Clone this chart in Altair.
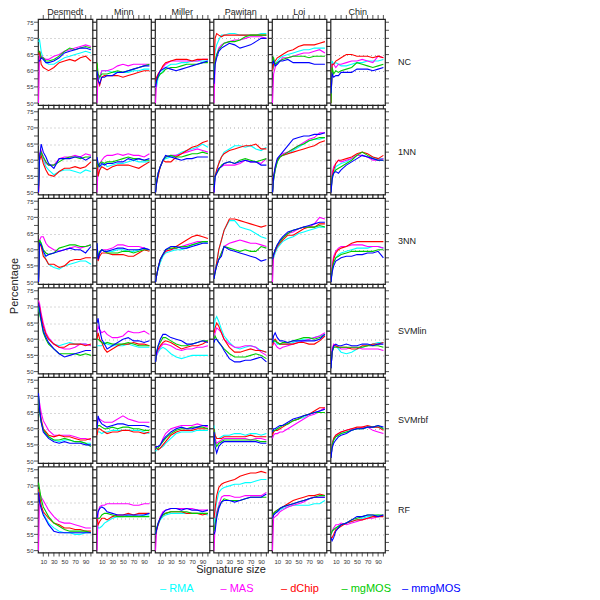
import altair as alt
import pandas as pd

SIZES = [1, 3, 6, 10, 15, 20, 30, 40, 50, 60, 70, 80, 90, 100]
DATASETS = ["Desmedt", "Minn", "Miller", "Pawitan", "Loi", "Chin"]
CLASSIFIERS = ["NC", "1NN", "3NN", "SVMlin", "SVMrbf", "RF"]
METHODS = ["RMA", "MAS", "dChip", "mgMOS", "mmgMOS"]
COLORS = ["#00FFFF", "#FF00FF", "#FF0000", "#00CC00", "#0000FF"]
Y_TICKS = [50, 52.5, 55, 57.5, 60, 62.5, 65, 67.5, 70, 72.5, 75]
X_TICKS = [10, 20, 30, 40, 50, 60, 70, 80, 90, 100]
X_DOMAIN = [0, 103]
Y_DOMAIN = [49.4, 76]

NC_Desmedt = {
    "RMA": [69, 69.5, 66, 63.5, 62.5, 62, 62, 63, 64, 64.5, 65, 65.5, 66, 65.5],
    "MAS": [50, 66, 64.5, 64, 63.5, 63.5, 64.5, 65, 66, 66.5, 67, 67.5, 68, 67.5],
    "dChip": [65, 66, 62, 61, 60.5, 60, 61, 62.5, 63, 63.5, 63, 64, 64.5, 63],
    "mgMOS": [66, 66, 64, 64, 63, 63, 63.5, 64.5, 66, 67, 66.5, 67, 67.5, 67],
    "mmgMOS": [63, 63, 64, 63.5, 62.5, 62.5, 63, 64, 65.5, 66, 66.5, 67, 67, 66.5],
}
NC_Minn = {
    "RMA": [60, 58, 57.5, 60, 60, 60, 59.5, 59.5, 59.5, 59.5, 60, 60, 60.5, 60.5],
    "MAS": [50, 59, 58, 60, 60, 60, 60.5, 61.5, 62, 61.5, 62, 62, 62, 62],
    "dChip": [62, 57, 55.5, 58, 58.5, 58.5, 58.5, 58.5, 58, 58.5, 59, 59.5, 60, 60],
    "mgMOS": [62.5, 59, 58, 59, 59, 59, 59.5, 60, 59.5, 60, 60.5, 61, 61.5, 62],
    "mmgMOS": [60, 57, 56, 58, 58, 58.5, 58.5, 59.5, 59.5, 60, 60.5, 61, 61.5, 61.5],
}
NC_Miller = {
    "RMA": [55, 55, 58, 59, 60, 61, 62, 62, 62.5, 62.5, 63, 63, 63, 63],
    "MAS": [50, 57, 59, 60, 61, 62, 63, 63, 63, 63, 63, 63, 63.5, 63.5],
    "dChip": [56, 58, 59, 60, 61.5, 62.5, 63, 63.5, 63.5, 63.5, 63, 63.5, 63.5, 63.5],
    "mgMOS": [56, 57, 58, 59, 59.5, 60.5, 61, 61, 61.5, 62, 62, 62, 62.5, 62.5],
    "mmgMOS": [55, 57, 58.5, 60, 60.5, 61, 60.5, 60, 60.5, 61, 61.5, 62, 62.5, 63],
}
NC_Pawitan = {
    "RMA": [60, 66, 68, 69.5, 71, 71, 71.5, 71.5, 71, 71, 71, 71, 71.5, 71.5],
    "MAS": [50, 62, 65, 67, 68, 68.5, 69, 69.5, 69.5, 70, 70.5, 70.5, 70.5, 70],
    "dChip": [62, 70, 71.5, 71, 70.5, 71, 71, 71, 71, 71, 71, 71, 71, 71],
    "mgMOS": [58, 63, 65, 66.5, 67.5, 68.5, 69, 69, 69.5, 70.5, 71, 71, 71, 71],
    "mmgMOS": [56, 62, 64, 66, 67, 67.5, 68.5, 68, 67, 67.5, 68, 69, 70, 70],
}
NC_Loi = {
    "RMA": [60, 61, 62, 63, 64, 64.5, 65, 65.5, 66, 66.5, 66.5, 67, 67, 67],
    "MAS": [50, 59, 61, 62.5, 63, 64, 64, 64.5, 65, 65.5, 65.5, 66, 66.5, 65.5],
    "dChip": [60, 62, 63, 64, 64.5, 65, 66, 66.5, 67.5, 68, 68, 68, 68.5, 69],
    "mgMOS": [63, 64, 62, 62.5, 63, 63.5, 64, 64.5, 64.5, 64.5, 64, 64.5, 64.5, 64.5],
    "mmgMOS": [62, 63, 61.5, 62, 63, 63, 63.5, 62.5, 62.5, 62.5, 62.5, 62, 62, 62],
}
NC_Chin = {
    "RMA": [50, 63, 62, 62.5, 62, 61.5, 61.5, 62, 62.5, 62.5, 63, 63, 63, 63.5],
    "MAS": [50, 62, 62, 61, 62, 62, 62.5, 63, 63, 63.5, 63, 62.5, 64.5, 64],
    "dChip": [50, 62, 62, 63, 63.5, 64, 65, 65, 64.5, 64.5, 64.5, 64, 64.5, 64],
    "mgMOS": [50, 61, 59, 60, 59.5, 60, 60.5, 61, 62.5, 62, 61.5, 61, 61.5, 62],
    "mmgMOS": [53, 59, 58, 58.5, 58.5, 59.5, 59.5, 59.5, 60.5, 60.5, 60.5, 60, 60.5, 61],
}
NN1_Desmedt = {
    "RMA": [52, 62, 62, 60, 58, 57, 55.5, 56.5, 57, 57, 56.5, 56, 57, 56.5],
    "MAS": [50, 62, 63, 61, 59, 58.5, 58.5, 60.5, 61, 61, 61.5, 61, 62, 61.5],
    "dChip": [50, 60, 61.5, 59, 57, 55.5, 55, 56.5, 57.5, 57.5, 58, 57.5, 58, 59.5],
    "mgMOS": [52, 61, 62.5, 61, 59.5, 58.5, 58.5, 59.5, 60.5, 61, 61, 60.5, 61, 61],
    "mmgMOS": [50, 61, 65, 62.5, 61, 59, 57.5, 60.5, 60.5, 60.5, 61, 61, 60, 61],
}
NN1_Minn = {
    "RMA": [58, 55, 57, 58.5, 59, 58, 58.5, 59, 59, 59.5, 60, 59.5, 59.5, 59.5],
    "MAS": [50, 58, 59, 60, 61, 61.5, 61.5, 62, 61.5, 62, 61.5, 61.5, 61, 62],
    "dChip": [60, 55, 57, 58, 57.5, 57, 58, 58.5, 58.5, 58.5, 58, 57.5, 58.5, 59.5],
    "mgMOS": [60, 58, 59, 59.5, 59, 59.5, 59.5, 60, 60.5, 61, 60.5, 60.5, 60, 60],
    "mmgMOS": [61, 59, 58, 59, 58.5, 59, 59, 59.5, 59.5, 60.5, 60, 60.5, 60, 60.5],
}
NN1_Miller = {
    "RMA": [50, 54, 56, 58, 60, 60.5, 61, 61.5, 62.5, 63, 63.5, 64, 65, 64],
    "MAS": [50, 53, 56, 58, 60, 61, 61.5, 61.5, 62, 62.5, 63, 63.5, 63, 62.5],
    "dChip": [50, 53, 55, 58, 60, 59.5, 59.5, 61, 62, 63, 64, 64.5, 65.5, 66],
    "mgMOS": [50, 53, 56, 58, 60, 61, 61.5, 61, 61, 61.5, 62, 62, 62.5, 62],
    "mmgMOS": [50, 53, 56, 58, 60, 61.5, 61, 60.5, 60, 60.5, 60.5, 61, 61, 61],
}
NN1_Pawitan = {
    "RMA": [52, 55, 57, 59, 61, 62.5, 63.5, 64.5, 64.5, 64, 64.5, 63.5, 63, 64],
    "MAS": [50, 55, 56, 57.5, 58, 58.5, 58.5, 58.5, 59, 60, 59.5, 59.5, 59, 60.5],
    "dChip": [55, 55, 57, 59, 61, 62, 63, 63.5, 64, 64.5, 64.5, 65, 63.5, 63.5],
    "mgMOS": [52, 55, 56, 57, 58.5, 59, 59.5, 59, 60, 60.5, 60, 59.5, 60, 60.5],
    "mmgMOS": [50, 55, 56, 57.5, 58, 59, 59.5, 59, 59.5, 60, 59.5, 59.5, 58.5, 58.5],
}
NN1_Loi = {
    "RMA": [50, 54, 57, 59.5, 61, 61.5, 62, 63, 64, 65, 66, 66.5, 66.5, 67],
    "MAS": [50, 54, 57, 60, 61, 62, 62.5, 63.5, 64.5, 65.5, 66.5, 67, 68.5, 68.5],
    "dChip": [50, 55, 57.5, 60, 61, 61.5, 62, 62.5, 63, 63.5, 64, 64.5, 65.5, 66],
    "mgMOS": [50, 54, 57, 59.5, 61, 61.5, 62.5, 63.5, 64.5, 65, 66, 66.5, 67, 67],
    "mmgMOS": [50, 55, 58, 60.5, 61.5, 62.5, 64.5, 66.5, 67, 67.5, 67.5, 68, 68, 68.5],
}
NN1_Chin = {
    "RMA": [50, 55, 56, 58, 58.5, 59, 59.5, 60.5, 61.5, 61.5, 61, 61, 60.5, 60.5],
    "MAS": [50, 56, 58, 59, 60, 59.5, 60, 60.5, 61.5, 61.5, 61, 60, 60, 60.5],
    "dChip": [50, 55, 57, 59, 60, 60, 60.5, 61, 62, 62.5, 62, 61, 60.5, 61.5],
    "mgMOS": [50, 55, 56, 57, 57.5, 58, 59, 60, 61.5, 62.5, 61.5, 60.5, 60, 60],
    "mmgMOS": [50, 54, 56, 56.5, 56, 57, 58.5, 59.5, 60.5, 61.5, 61, 60.5, 60, 60],
}
NN3_Desmedt = {
    "RMA": [50, 63, 62, 59, 57, 55.5, 54.5, 54, 55, 55.5, 56, 56.5, 56.5, 55.5],
    "MAS": [50, 63, 64, 64, 62, 61, 60, 59.5, 60, 60.5, 61, 60.5, 61, 61.5],
    "dChip": [50, 62, 61, 58, 57, 55.5, 55.5, 54.5, 55, 56.5, 57, 57, 57.5, 57.5],
    "mgMOS": [50, 63, 62, 60, 59, 58.5, 59, 60.5, 61, 61.5, 61.5, 61, 61, 61.5],
    "mmgMOS": [50, 62, 61.5, 59.5, 58, 58.5, 59, 59.5, 60, 60.5, 60, 60, 59, 61],
}
NN3_Minn = {
    "RMA": [61, 57, 59, 60, 59.5, 59.5, 59.5, 60, 60, 59.5, 59.5, 60, 60.5, 60],
    "MAS": [62, 57, 59, 60, 60, 60, 60.5, 61.5, 61.5, 61, 61, 61, 60.5, 60],
    "dChip": [61, 56.5, 58, 59, 59, 59, 58.5, 58.5, 58.5, 58, 58, 59, 60, 59.5],
    "mgMOS": [62, 57.5, 59.5, 60, 59.5, 59, 59, 59, 59.5, 59.5, 59, 59.5, 60, 60],
    "mmgMOS": [62, 57, 59, 60, 59.5, 59.5, 60, 60.5, 60.5, 60, 60, 60, 60.5, 60],
}
NN3_Miller = {
    "RMA": [50, 52, 54, 56, 58, 59, 59.5, 60, 60, 60.5, 61.5, 62, 62.5, 62],
    "MAS": [50, 52, 54.5, 57, 58.5, 59.5, 60, 60.5, 61, 61.5, 62, 62.5, 62.5, 62.5],
    "dChip": [50, 52, 54.5, 57, 58.5, 59.5, 60, 61, 62, 63, 64, 64.5, 64, 63.5],
    "mgMOS": [50, 52, 54.5, 57, 58.5, 60, 60.5, 60.5, 61, 61, 61.5, 62, 62.5, 62.5],
    "mmgMOS": [50, 52, 54.5, 57, 58.5, 60, 61, 61, 60.5, 60.5, 61, 61.5, 62, 62],
}
NN3_Pawitan = {
    "RMA": [52, 54, 56, 60, 63, 66, 69, 69, 67, 66.5, 66, 65, 64, 63.5],
    "MAS": [51, 54, 55, 57, 59, 61, 62, 62.5, 63, 62.5, 62, 62, 61.5, 61],
    "dChip": [52, 53, 56, 60, 63, 66, 69.5, 69.5, 69, 68.5, 68, 67.5, 67, 67.5],
    "mgMOS": [51, 53, 55, 57, 59, 61, 60.5, 60, 59.5, 60, 59.5, 59.5, 61, 60.5],
    "mmgMOS": [51, 53, 55, 57, 58, 61, 60, 59.5, 59, 58.5, 58, 57.5, 56.5, 57],
}
NN3_Loi = {
    "RMA": [57, 57.5, 59, 60.5, 61.5, 62.5, 63.5, 64, 65, 65.5, 66, 66.5, 67, 67],
    "MAS": [50, 58, 60, 61.5, 62.5, 63.5, 65, 65.5, 66.5, 67, 67, 68, 70, 69.5],
    "dChip": [57, 58.5, 59.5, 61, 62, 63, 64.5, 64.5, 65.5, 66.5, 67, 67, 68, 68],
    "mgMOS": [57, 58.5, 60, 61.5, 62.5, 63.5, 65, 66, 66.5, 67, 67, 67, 67.5, 67],
    "mmgMOS": [57, 58.5, 60, 61.5, 63, 64, 65.5, 66, 66.5, 67, 67.5, 68, 68.5, 68.5],
}
NN3_Chin = {
    "RMA": [50, 53.5, 56, 57.5, 58.5, 59, 59.5, 60, 60.5, 60.5, 60.5, 61, 61, 60.5],
    "MAS": [50, 55, 58, 59.5, 60.5, 61, 61, 61.5, 61.5, 61.5, 61, 61, 61, 60.5],
    "dChip": [50, 54, 57, 59, 60, 60.5, 61, 62, 62.5, 62.5, 62.5, 62.5, 62.5, 62.5],
    "mgMOS": [50, 54, 56, 57.5, 58, 58.5, 59, 59.5, 59.5, 59.5, 59.5, 59.5, 60, 60],
    "mmgMOS": [50, 53, 55, 56.5, 57, 57.5, 58, 58, 58.5, 58.5, 59, 59, 59.5, 57.5],
}
SVMlin_Desmedt = {
    "RMA": [70, 68, 66, 63, 61, 60, 58.5, 58, 58.5, 59, 58.5, 58.5, 58.5, 58],
    "MAS": [72, 71, 68, 65, 62, 60.5, 58.5, 57.5, 57, 57, 57.5, 58.5, 58.5, 58],
    "dChip": [71, 70, 67, 64, 61.5, 60, 58.5, 57.5, 57.5, 58.5, 58.5, 58.5, 58, 58.5],
    "mgMOS": [70, 68, 65.5, 62, 60, 58.5, 57, 55.5, 55.5, 55.5, 55.5, 55, 55.5, 55],
    "mmgMOS": [71, 69, 66, 62.5, 60.5, 59, 57, 55.5, 54.5, 55, 55.5, 56, 56.5, 56.5],
}
SVMlin_Minn = {
    "RMA": [58, 58, 58, 58, 59, 58.5, 58, 58, 58, 58.5, 58, 57.5, 57.5, 57.5],
    "MAS": [62, 64, 63, 62, 62.5, 61.5, 60.5, 60.5, 61, 62.5, 62, 62, 62.5, 61.5],
    "dChip": [60, 62, 60, 59, 57, 56, 57, 58, 58.5, 58.5, 59, 58.5, 58.5, 58],
    "mgMOS": [60, 60, 59.5, 59, 58.5, 59, 58.5, 58.5, 58.5, 59, 58.5, 58, 58, 58],
    "mmgMOS": [65, 66.5, 63, 60, 58.5, 57, 58, 59, 60, 60.5, 59.5, 59.5, 59, 59.5],
}
SVMlin_Miller = {
    "RMA": [53, 55, 56, 57, 57.5, 57, 55.5, 54.5, 54, 54.5, 55, 55, 55, 55],
    "MAS": [53, 55, 56.5, 57.5, 58.5, 58.5, 58, 57, 56.5, 57, 57, 57.5, 57.5, 58],
    "dChip": [53, 56, 57, 58, 59, 59.5, 59, 58, 57, 57.5, 58, 58, 58.5, 59.5],
    "mgMOS": [53, 56, 58, 59, 60.5, 60.5, 59.5, 58.5, 58, 58, 58.5, 59, 59.5, 59.5],
    "mmgMOS": [53, 56, 58, 60, 61.5, 61.5, 60.5, 60, 59.5, 58.5, 58.5, 59, 59.5, 59],
}
SVMlin_Pawitan = {
    "RMA": [63, 66, 67, 65.5, 63, 61, 59, 57.5, 57, 57.5, 58, 57.5, 56.5, 56],
    "MAS": [60, 62, 63.5, 63, 62, 60, 58.5, 57.5, 57.5, 58, 58, 57.5, 56, 55],
    "dChip": [62, 63.5, 65, 64, 62, 60, 57.5, 56, 56, 56.5, 57, 56.5, 56.5, 56],
    "mgMOS": [60, 61, 60, 59, 58, 57, 55.5, 54.5, 54.5, 54.5, 55, 55.5, 55, 54],
    "mmgMOS": [59, 60, 60, 59, 58, 56.5, 54, 53, 53, 53.5, 53.5, 54, 54.5, 53],
}
SVMlin_Loi = {
    "RMA": [58, 59, 59.5, 58.5, 58.5, 58.5, 58.5, 59, 59.5, 60, 60, 60.5, 61, 61.5],
    "MAS": [58, 59, 58.5, 57.5, 57, 57.5, 58, 58.5, 59, 59.5, 60, 60.5, 61, 62],
    "dChip": [58, 59.5, 60, 59, 58.5, 58.5, 58.5, 58.5, 59, 59, 58.5, 58.5, 59.5, 61],
    "mgMOS": [59, 59.5, 59.5, 59, 58.5, 59, 59, 59.5, 60, 60.5, 60.5, 60, 60.5, 61.5],
    "mmgMOS": [59, 61, 62, 60.5, 59.5, 59.5, 59, 59.5, 59.5, 59.5, 59.5, 59.5, 60, 61.5],
}
SVMlin_Chin = {
    "RMA": [51, 56, 57.5, 58, 57, 56, 55.5, 56, 57, 57.5, 58, 58.5, 59, 59],
    "MAS": [51, 57, 58.5, 58, 57.5, 57, 57, 57.5, 57.5, 57, 57, 57, 57, 56.5],
    "dChip": [51, 56, 58, 58, 57.5, 57.5, 57.5, 57, 57, 58, 58, 58.5, 58.5, 59],
    "mgMOS": [51, 56, 57.5, 57.5, 57.5, 57.5, 57.5, 57.5, 57.5, 57.5, 58, 58, 58, 57.5],
    "mmgMOS": [51, 56, 58, 58.5, 58, 58, 58.5, 58, 58, 58.5, 58.5, 58, 58.5, 58.5],
}
SVMrbf_Desmedt = {
    "RMA": [70, 66, 62.5, 60, 58.5, 57.5, 56.5, 56, 56.5, 56.5, 56, 56, 55.5, 55.5],
    "MAS": [69, 68, 65, 62.5, 61, 59.5, 58, 58, 58, 58, 57.5, 57, 57, 56.5],
    "dChip": [70, 66, 63, 60, 59, 58, 57.5, 58, 57.5, 57.5, 57, 56.5, 56.5, 57],
    "mgMOS": [70, 65, 62, 59.5, 58.5, 57.5, 56.5, 56.5, 57, 56.5, 56, 56, 55.5, 54.5],
    "mmgMOS": [71, 66, 62, 59, 58, 57, 56, 55.5, 56, 55.5, 55.5, 55.5, 55, 55],
}
SVMrbf_Minn = {
    "RMA": [59, 59, 59, 58.5, 59, 59, 59.5, 59.5, 59.5, 59.5, 59.5, 59.5, 59, 58.5],
    "MAS": [60, 63, 63, 62.5, 62, 62, 62, 63, 64, 63, 62.5, 62, 62, 62],
    "dChip": [58, 60, 60, 59.5, 59, 58.5, 59, 59, 59.5, 59.5, 59, 59, 58.5, 59],
    "mgMOS": [60, 61, 61, 60.5, 60, 60, 60.5, 60, 60.5, 60.5, 60, 60, 59.5, 59.5],
    "mmgMOS": [60, 64, 62.5, 61.5, 61, 60.5, 61, 61.5, 61.5, 61, 61, 61, 61, 60.5],
}
SVMrbf_Miller = {
    "RMA": [53, 53.5, 53.5, 54, 54.5, 55.5, 57, 58.5, 59, 59, 59, 59.5, 59.5, 59.5],
    "MAS": [54, 54.5, 54.5, 55, 57, 58.5, 60, 60.5, 61, 61, 61, 61.5, 61, 60.5],
    "dChip": [54, 54, 53.5, 54, 55, 56, 58, 59, 59.5, 59.5, 59.5, 60, 60, 60],
    "mgMOS": [54, 54, 54, 55, 56, 57, 58.5, 59.5, 60, 60, 60.5, 60.5, 60.5, 60],
    "mmgMOS": [54, 54.5, 54.5, 55, 56.5, 57.5, 59, 60, 60.5, 60, 60, 60.5, 61, 61],
}
SVMrbf_Pawitan = {
    "RMA": [61, 58, 57, 57, 57.5, 58, 58, 58.5, 58.5, 58, 58.5, 58.5, 58, 58.5],
    "MAS": [60, 57, 55.5, 56, 56.5, 57, 57, 57, 57, 57, 56.5, 57, 57, 56.5],
    "dChip": [60, 58, 57, 57, 57, 57.5, 57.5, 57.5, 57.5, 57.5, 58, 57.5, 57.5, 57.5],
    "mgMOS": [60, 56, 54.5, 55.5, 56, 56.5, 56.5, 56.5, 56.5, 56.5, 56.5, 56.5, 56, 56],
    "mmgMOS": [59, 54.5, 52.5, 54.5, 55.5, 56, 56, 56, 56, 56, 56, 56, 55.5, 55.5],
}
SVMrbf_Loi = {
    "RMA": [59, 59.5, 59.5, 60, 60.5, 61, 61.5, 62.5, 63, 63.5, 64.5, 65, 65.5, 66],
    "MAS": [57, 58, 58.5, 58.5, 59, 59, 60, 61, 62, 63, 64, 64.5, 65.5, 66.5],
    "dChip": [58, 59, 59.5, 59.5, 60, 60.5, 61.5, 62.5, 63, 64, 64.5, 65.5, 66.5, 66.5],
    "mgMOS": [59, 59.5, 59.5, 60, 60.5, 61, 61.5, 62.5, 63, 64, 64.5, 65, 65, 65],
    "mmgMOS": [59, 60, 60, 60.5, 61, 61, 62, 63, 63.5, 64, 64.5, 65, 65.5, 66],
}
SVMrbf_Chin = {
    "RMA": [51, 55, 56.5, 57.5, 58, 58.5, 59, 59.5, 60, 60, 60.5, 60.5, 60.5, 60],
    "MAS": [51, 55, 57, 58, 58.5, 59, 59.5, 60, 60, 60.5, 60.5, 59.5, 59, 58.5],
    "dChip": [51, 55, 57, 58, 58.5, 59, 59.5, 60, 60.5, 60.5, 61, 60.5, 60.5, 59.5],
    "mgMOS": [51, 55, 56.5, 57.5, 58, 58.5, 59, 59.5, 60, 60, 60.5, 60.5, 61, 60],
    "mmgMOS": [51, 54, 55.5, 56.5, 57.5, 58, 58.5, 59.5, 60, 60, 60.5, 60.5, 61, 60.5],
}
RF_Desmedt = {
    "RMA": [69, 67, 64, 61.5, 60, 58.5, 57, 56, 55.5, 55.5, 55, 55, 55.5, 55.5],
    "MAS": [50, 68, 66.5, 65.5, 64, 62.5, 60.5, 59, 58.5, 58.5, 58, 57.5, 57, 57],
    "dChip": [69, 67, 64, 62, 61, 60, 58.5, 58, 57, 57, 56.5, 56.5, 56, 56],
    "mgMOS": [71, 69, 66, 63.5, 62, 60.5, 58.5, 57.5, 56.5, 56, 56, 56, 56, 55.5],
    "mmgMOS": [68, 65, 63, 61, 59.5, 58, 56, 55.5, 55.5, 55.5, 55.5, 55.5, 55.5, 55.5],
}
RF_Minn = {
    "RMA": [59, 57, 57, 57.5, 58.5, 59, 60, 60.5, 60.5, 61, 61, 60.5, 61, 61],
    "MAS": [50, 62, 63.5, 64, 64, 64.5, 64.5, 64.5, 64.5, 64.5, 64, 64, 64.5, 64.5],
    "dChip": [60, 58, 59, 60, 60, 59.5, 60.5, 61, 61, 61.5, 61, 61.5, 61.5, 61.5],
    "mgMOS": [60, 60, 60, 61, 61.5, 61.5, 61, 60.5, 60.5, 60.5, 60.5, 60.5, 60.5, 60.5],
    "mmgMOS": [60, 62, 63, 63.5, 63, 62, 61.5, 61, 61, 61, 61, 61, 61, 61.5],
}
RF_Miller = {
    "RMA": [55, 56.5, 58, 59.5, 60.5, 61, 61.5, 61.5, 61.5, 61.5, 61.5, 61.5, 61.5, 61],
    "MAS": [50, 56, 58.5, 60.5, 62, 62.5, 63, 63, 63, 63, 63, 62.5, 62.5, 62.5],
    "dChip": [55, 56.5, 58, 60, 61, 61.5, 62, 62, 62, 61.5, 61.5, 61.5, 61, 61.5],
    "mgMOS": [55, 57, 58.5, 60, 61, 61.5, 62, 62, 62, 62, 61.5, 61.5, 61.5, 61.5],
    "mmgMOS": [55, 56.5, 58.5, 60, 61.5, 62.5, 63, 63, 62.5, 63, 62.5, 62.5, 62, 62.5],
}
RF_Pawitan = {
    "RMA": [58, 62, 65, 68, 69, 69.5, 70, 70.5, 70.5, 71, 71, 71.5, 72, 72],
    "MAS": [50, 58, 62, 64, 66.5, 67, 67, 66.5, 66.5, 67, 67, 67, 67, 68],
    "dChip": [60, 63, 67, 69.5, 70.5, 71, 71.5, 72, 73, 73.5, 74, 74, 74.5, 74],
    "mgMOS": [56, 58, 61, 63.5, 65, 66, 65.5, 65.5, 65.5, 66, 66.5, 66.5, 66.5, 66.5],
    "mmgMOS": [55, 56, 60, 63, 65, 65.5, 65.5, 65, 65.5, 66, 66.5, 66.5, 66.5, 67.5],
}
RF_Loi = {
    "RMA": [60, 61, 61.5, 62, 62.5, 63, 63.5, 64, 64, 64, 64, 64.5, 64.5, 65.5],
    "MAS": [50, 60, 60.5, 61, 62, 62.5, 63.5, 64, 64.5, 65, 66, 66.5, 66.5, 66.5],
    "dChip": [60, 61.5, 62, 62.5, 63, 63.5, 64.5, 65.5, 66, 66.5, 67, 67, 67.5, 67],
    "mgMOS": [61, 61.5, 62, 62.5, 63, 63.5, 64, 64.5, 65, 65.5, 66, 66.5, 67, 67],
    "mmgMOS": [60, 61, 61.5, 62, 63, 63.5, 64, 64.5, 65, 65.5, 66, 66.5, 66.5, 66.5],
}
RF_Chin = {
    "RMA": [55, 56, 56.5, 57, 57.5, 58, 58.5, 59, 59.5, 60, 60.5, 60.5, 61, 60.5],
    "MAS": [55, 56, 57, 58, 58, 58.5, 58, 58.5, 59, 59.5, 60, 60, 60.5, 61],
    "dChip": [54, 54, 55, 56.5, 57, 57.5, 58.5, 59, 59.5, 59.5, 60, 60.5, 60.5, 60.5],
    "mgMOS": [55, 56, 56.5, 57, 57.5, 58, 58.5, 59.5, 60, 60.5, 61, 61, 61, 61],
    "mmgMOS": [54, 53, 54, 56, 57, 58, 58.5, 59.5, 60.5, 60.5, 61, 61, 60.5, 61],
}

PANELS = {
    "NC": [NC_Desmedt, NC_Minn, NC_Miller, NC_Pawitan, NC_Loi, NC_Chin],
    "1NN": [NN1_Desmedt, NN1_Minn, NN1_Miller, NN1_Pawitan, NN1_Loi, NN1_Chin],
    "3NN": [NN3_Desmedt, NN3_Minn, NN3_Miller, NN3_Pawitan, NN3_Loi, NN3_Chin],
    "SVMlin": [SVMlin_Desmedt, SVMlin_Minn, SVMlin_Miller, SVMlin_Pawitan, SVMlin_Loi, SVMlin_Chin],
    "SVMrbf": [SVMrbf_Desmedt, SVMrbf_Minn, SVMrbf_Miller, SVMrbf_Pawitan, SVMrbf_Loi, SVMrbf_Chin],
    "RF": [RF_Desmedt, RF_Minn, RF_Miller, RF_Pawitan, RF_Loi, RF_Chin],
}

FONT = "Liberation Sans"
PW, PH = 54.5, 86  # panel size
TICK = 4           # outward tick length (px)

rows = []
for clf in CLASSIFIERS:
    for ds, panel in zip(DATASETS, PANELS[clf]):
        for mi, m in enumerate(METHODS):
            for s, v in zip(SIZES, panel[m]):
                rows.append({"kind": "line", "clf": clf, "ds": ds, "method": m,
                             "morder": mi, "size": s, "value": v})
        # lattice-style outward tick marks on all four panel borders
        for t in X_TICKS:
            rows.append({"kind": "tt", "clf": clf, "ds": ds, "size": t, "value": Y_DOMAIN[1]})
            rows.append({"kind": "tb", "clf": clf, "ds": ds, "size": t, "value": Y_DOMAIN[0]})
        for t in Y_TICKS:
            rows.append({"kind": "tl", "clf": clf, "ds": ds, "size": X_DOMAIN[0], "value": t})
            rows.append({"kind": "tr", "clf": clf, "ds": ds, "size": X_DOMAIN[1], "value": t})
        if ds == DATASETS[-1]:
            rows.append({"kind": "label", "clf": clf, "ds": ds})
df = pd.DataFrame(rows)

xscale = alt.Scale(domain=X_DOMAIN, nice=False, zero=False)
yscale = alt.Scale(domain=Y_DOMAIN, nice=False, zero=False)
cscale = alt.Scale(domain=METHODS, range=COLORS)

xaxis = alt.Axis(values=X_TICKS, labelExpr="datum.value % 20 == 10 ? datum.label : ''",
                 title=None, labelFontSize=6, labelColor="#333", labelOverlap=False,
                 labelPadding=TICK + 1, tickSize=0, domain=False, grid=False, labelFlush=False,
                 minExtent=0, maxExtent=11)
yaxis = alt.Axis(values=Y_TICKS, labelExpr="datum.value % 5 == 0 ? datum.label : ''",
                 title=None, labelFontSize=6, labelColor="#333", labelOverlap=False,
                 labelPadding=TICK + 1, tickSize=0, domain=False, grid=True,
                 gridColor="#b0b0b0", gridDash=[1, 3], gridWidth=1,
                 gridOpacity={"condition": {"test": "datum.value % 5 == 0 && datum.value > 50 && datum.value < 75", "value": 1}, "value": 0},
                 labelFlush=False, minExtent=0, maxExtent=13)

X_ENC = alt.X("size:Q", scale=xscale, axis=xaxis)
Y_ENC = alt.Y("value:Q", scale=yscale, axis=yaxis)

lines = alt.Chart().transform_filter(alt.datum.kind == "line").mark_line(
    strokeWidth=1.1, clip=True).encode(
    x=X_ENC,
    y=Y_ENC,
    color=alt.Color("method:N", scale=cscale, legend=None),
    order=alt.Order("size:Q"),
    detail="morder:O",
)


def border_ticks(kind, orient, dx, dy):
    return alt.Chart().transform_filter(alt.datum.kind == kind).mark_tick(
        orient=orient, size=TICK, thickness=1.1, color="#222", clip=False,
        xOffset=dx, yOffset=dy).encode(x=X_ENC, y=Y_ENC)


ticks_top = border_ticks("tt", "vertical", 0, -TICK / 2)
ticks_bottom = border_ticks("tb", "vertical", 0, TICK / 2)
ticks_left = border_ticks("tl", "horizontal", -TICK / 2, 0)
ticks_right = border_ticks("tr", "horizontal", TICK / 2, 0)

row_labels = alt.Chart().transform_filter(alt.datum.kind == "label").mark_text(
    align="left", baseline="middle", fontSize=9, font=FONT, color="#222", clip=False).encode(
    x=alt.value(PW + 13),
    y=alt.value(PH / 2),
    text="clf:N",
)

grid = alt.layer(lines, ticks_top, ticks_bottom, ticks_left, ticks_right, row_labels,
                 data=df).properties(width=PW, height=PH).facet(
    row=alt.Row("clf:N", sort=CLASSIFIERS,
                header=alt.Header(title="Percentage", titleOrient="left", titleFontSize=11,
                                  titleFontWeight="normal", titleColor="#222", titlePadding=-4,
                                  titleFont=FONT, labels=False)),
    column=alt.Column("ds:N", sort=DATASETS,
                      header=alt.Header(title="Signature size", titleOrient="bottom",
                                        titleFontSize=11, titleFontWeight="normal",
                                        titleColor="#222", titlePadding=-10, titleFont=FONT,
                                        labelOrient="top", labelFontSize=9,
                                        labelColor="#222", labelPadding=2, labelFont=FONT)),
    spacing=3.5,
    bounds="flush",
)

legend_df = pd.DataFrame({"method": METHODS, "label": ["\u2013 " + m for m in METHODS]})
legend = alt.Chart(legend_df).mark_text(align="left", fontSize=11, font=FONT).encode(
    x=alt.X("method:N", sort=METHODS, axis=None,
            scale=alt.Scale(type="point", range=[122, 364], padding=0)),
    text="label:N",
    color=alt.Color("method:N", scale=cscale, legend=None),
).properties(width=470, height=12, view=alt.ViewBackground(strokeWidth=0, stroke="transparent"))

chart = alt.vconcat(grid, legend, spacing=8).properties(
    padding={"left": 0, "top": 0, "right": 5, "bottom": 2}
).configure(font=FONT).configure_view(stroke="#222", strokeWidth=1.2)

chart.save("out.html", embed_options={"renderer": "svg", "actions": False})
